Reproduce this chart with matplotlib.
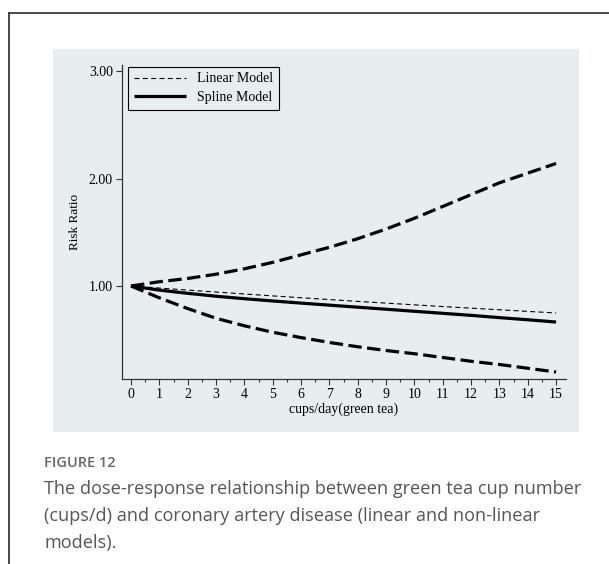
import matplotlib
matplotlib.use('Agg')
import matplotlib.pyplot as plt
from matplotlib.patches import Rectangle
from matplotlib.lines import Line2D
import numpy as np

# values (risk ratio at each cup count)
cups = [0, 1, 2, 3, 4, 5, 6, 7, 8, 9, 10, 11, 12, 13, 14, 15]
linear_rr = [1.00, 0.981, 0.962, 0.944, 0.926, 0.908, 0.891, 0.874,
             0.857, 0.841, 0.825, 0.809, 0.794, 0.779, 0.764, 0.749]
spline_rr = [1.00, 0.962, 0.932, 0.905, 0.882, 0.861, 0.841, 0.822,
             0.803, 0.784, 0.765, 0.746, 0.727, 0.706, 0.686, 0.665]
lower_ci = [1.00, 0.89, 0.79, 0.70, 0.63, 0.57, 0.52, 0.475,
            0.435, 0.40, 0.37, 0.335, 0.30, 0.27, 0.235, 0.20]
upper_ci = [1.00, 1.04, 1.07, 1.11, 1.16, 1.22, 1.29, 1.36,
            1.44, 1.53, 1.63, 1.74, 1.85, 1.96, 2.05, 2.14]

y_ticks = [1, 2, 3]
y_ticklabels = ['1.00', '2.00', '3.00']

W, H = 609, 564
bg = '#e8edf0'
serif = ['Liberation Serif', 'DejaVu Serif']
sans = ['Open Sans', 'DejaVu Sans']

fig = plt.figure(figsize=(W/100, H/100), dpi=100)
fig.patch.set_facecolor('white')

def fx(px):
    return px / W

def fy(py):
    return 1 - py / H

# page frame (top and left rule) and grey chart panel
fig.add_artist(Line2D([fx(9), fx(9)], [fy(13), 0], color='#3a3a3a', lw=1.3,
                      transform=fig.transFigure))
fig.add_artist(Line2D([fx(9), 1], [fy(13), fy(13)], color='#3a3a3a', lw=1.3,
                      transform=fig.transFigure))
fig.add_artist(Rectangle((fx(53), fy(432)), fx(579) - fx(53), fy(49) - fy(432),
                         facecolor=bg, edgecolor='none', transform=fig.transFigure,
                         zorder=0))

ax = fig.add_axes([fx(122), fy(379), fx(566) - fx(122), fy(65) - fy(379)])
ax.set_facecolor(bg)
ax.patch.set_alpha(0)

ax.plot(cups, upper_ci, color='black', lw=2.3, dashes=(4.2, 1.7),
        dash_capstyle='butt')
ax.plot(cups, lower_ci, color='black', lw=2.3, dashes=(4.2, 1.7),
        dash_capstyle='butt')
ax.plot(cups, linear_rr, color='black', lw=0.8, dashes=(4.5, 3),
        label='Linear Model')
ax.plot(cups, spline_rr, color='black', lw=2.3, solid_capstyle='butt',
        label='Spline Model')

ax.set_xlim(-0.318, 15.35)
ax.set_ylim(0.135, 3.056)

for s in ['top', 'right']:
    ax.spines[s].set_visible(False)
for s in ['left', 'bottom']:
    ax.spines[s].set_color('#333333')
    ax.spines[s].set_linewidth(0.9)

ax.set_xticks(cups)
ax.set_xticks(np.arange(0.5, 15, 1), minor=True)
ax.set_xticklabels([str(c) for c in cups], fontsize=10, family=serif)
ax.set_yticks(y_ticks)
ax.set_yticklabels(y_ticklabels, fontsize=10, family=serif)
ax.tick_params(axis='x', which='major', length=4, width=0.8, color='#333333', pad=2.5)
ax.tick_params(axis='x', which='minor', length=2.5, width=0.8, color='#333333')
ax.tick_params(axis='y', length=4.5, width=0.8, color='#333333', pad=2)

ax.set_xlabel('cups/day(green tea)', fontsize=10, family=serif, labelpad=1)
ax.set_ylabel('Risk Ratio', fontsize=9.5, family=serif, labelpad=6)

leg = ax.legend(loc='upper left', bbox_to_anchor=(0.0135, 0.994), borderaxespad=0,
                prop={'family': serif, 'size': 10}, handlelength=3.8,
                fancybox=False, edgecolor='black', facecolor=bg, framealpha=1,
                borderpad=0.4, labelspacing=0.4, handletextpad=0.8)
leg.get_frame().set_linewidth(0.8)

# caption
fig.text(fx(44), fy(463), 'FIGURE 12', fontsize=10.5, color='#666666',
         family=sans, weight='semibold', va='center')
caption = ['The dose-response relationship between green tea cup number',
           '(cups/d) and coronary artery disease (linear and non-linear',
           'models).']
for i, line in enumerate(caption):
    fig.text(fx(44), fy(489 + 27 * i), line, fontsize=13.1, color='#555555',
             family=sans, va='center')

fig.savefig('out.png', dpi=100, facecolor='white')
